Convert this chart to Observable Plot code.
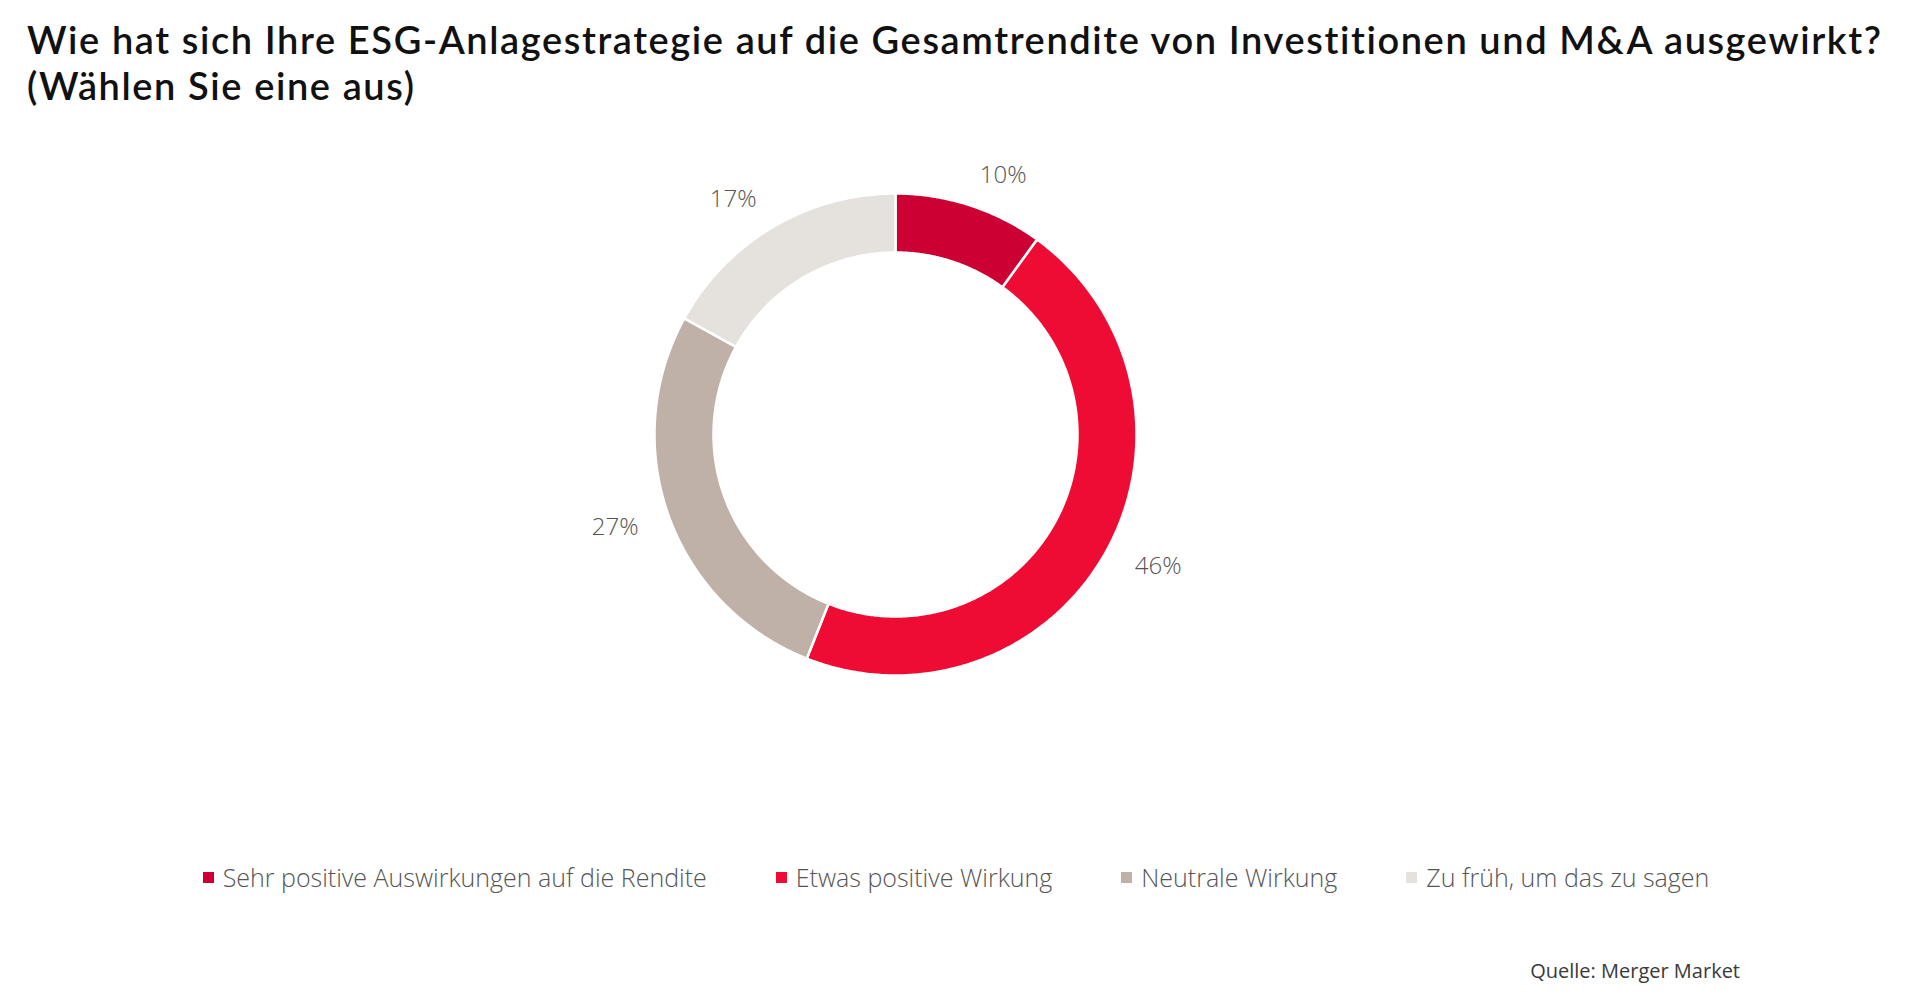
<!DOCTYPE html>
<html><head><meta charset="utf-8">
<script src="https://cdn.jsdelivr.net/npm/d3@7"></script>
<script src="https://cdn.jsdelivr.net/npm/@observablehq/plot@0.6"></script>
<style>
body{margin:0;background:#fff;width:1927px;height:994px;position:relative;overflow:hidden;}
.tl{position:absolute;left:27px;font-family:Lato,sans-serif;font-weight:600;font-size:38px;line-height:41px;letter-spacing:1.6px;color:#111;white-space:nowrap;}
#chart{position:absolute;left:0;top:110px;}
#legend{position:absolute;top:860px;left:0;width:1912px;display:flex;justify-content:center;gap:69px;font-family:"Open Sans",sans-serif;font-weight:300;font-size:25px;color:#555;}
.item{display:flex;align-items:center;}
.sw{width:11px;height:11px;margin-right:9px;}
#caption{position:absolute;right:187px;top:957px;font-family:"Open Sans",sans-serif;font-size:20px;color:#3a3a3a;}
</style></head><body>
<div id="title"></div>
<div id="chart"></div>
<div id="legend"></div>
<div id="caption"></div>
<script>
const titleLines = ["Wie hat sich Ihre ESG-Anlagestrategie auf die Gesamtrendite von Investitionen und M&A ausgewirkt?", "(Wählen Sie eine aus)"];
const categories = ["Sehr positive Auswirkungen auf die Rendite", "Etwas positive Wirkung", "Neutrale Wirkung", "Zu früh, um das zu sagen"];
const values = [10, 46, 27, 17];
const colors = ["#CC0033", "#EE0C35", "#BFB1A8", "#E5E2DE"];
const caption = "Quelle: Merger Market";

// layout
const W = 1927, H = 660, cx = 895, cy = 324, R = 241, innerR = 182, labelR = 273;

const titleEl = document.getElementById("title");
titleLines.forEach((t, i) => {
  const d = document.createElement("div");
  d.className = "tl";
  d.style.top = (19 + i * 46) + "px";
  d.textContent = t;
  titleEl.appendChild(d);
});
document.getElementById("caption").textContent = caption;

const arcs = d3.pie().sort(null).value(d => d)(values);
const inner = innerR / R;
const pts = [];
arcs.forEach((a, i) => {
  const key = categories[i];
  const n = Math.max(2, Math.ceil((a.endAngle - a.startAngle) / (Math.PI / 360)));
  for (let k = 0; k <= n; k++) {
    const t = a.startAngle + (a.endAngle - a.startAngle) * k / n;
    pts.push({key, x: Math.sin(t), y: Math.cos(t)});
  }
  for (let k = n; k >= 0; k--) {
    const t = a.startAngle + (a.endAngle - a.startAngle) * k / n;
    pts.push({key, x: inner * Math.sin(t), y: inner * Math.cos(t)});
  }
});
const lr = labelR / R;
const labels = arcs.map((a, i) => {
  const m = (a.startAngle + a.endAngle) / 2;
  return {text: values[i] + "%", x: lr * Math.sin(m), y: lr * Math.cos(m)};
});
const labelStyle = {x: "x", y: "y", text: "text", fontSize: 24, fill: "#555", fontFamily: "Open Sans", fontWeight: 300};

const chart = Plot.plot({
  width: W, height: H, margin: 0,
  x: {domain: [-cx / R, (W - cx) / R], axis: null},
  y: {domain: [-(H - cy) / R, cy / R], axis: null},
  color: {domain: categories, range: colors},
  marks: [
    Plot.line(pts, {x: "x", y: "y", z: "key", fill: "key", stroke: "white", strokeWidth: 2.5, curve: "linear-closed"}),
    Plot.text(labels, {...labelStyle, filter: d => d.x >= 0, textAnchor: "start"}),
    Plot.text(labels, {...labelStyle, filter: d => d.x < 0, textAnchor: "end"})
  ]
});
document.getElementById("chart").appendChild(chart);

const legend = document.getElementById("legend");
categories.forEach((c, i) => {
  const item = document.createElement("div");
  item.className = "item";
  const sw = document.createElement("span");
  sw.className = "sw";
  sw.style.background = colors[i];
  const tx = document.createElement("span");
  tx.textContent = c;
  item.appendChild(sw);
  item.appendChild(tx);
  legend.appendChild(item);
});
</script>
</body></html>
